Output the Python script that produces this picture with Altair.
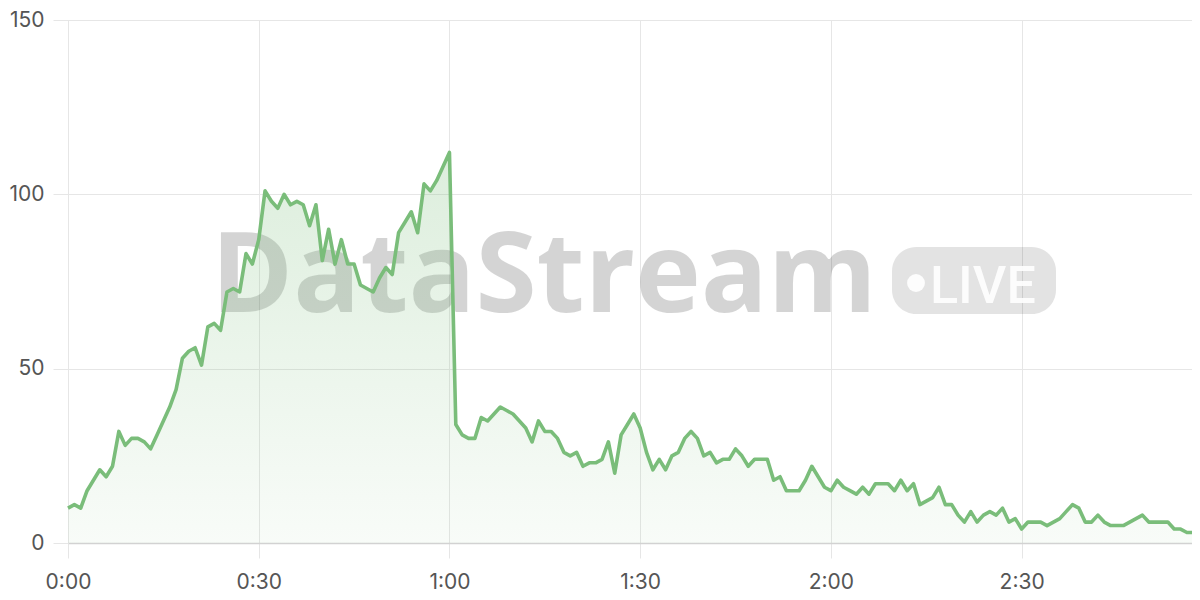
import altair as alt
import pandas as pd

seconds = list(range(178))
viewers = [
    10, 11, 10, 15, 18, 21, 19, 22, 32, 28,
    30, 30, 29, 27, 31, 35, 39, 44, 53, 55,
    56, 51, 62, 63, 61, 72, 73, 72, 83, 80,
    87, 101, 98, 96, 100, 97, 98, 97, 91, 97,
    81, 90, 80, 87, 80, 80, 74, 73, 72, 76,
    79, 77, 89, 92, 95, 89, 103, 101, 104, 108,
    112, 34, 31, 30, 30, 36, 35, 37, 39, 38,
    37, 35, 33, 29, 35, 32, 32, 30, 26, 25,
    26, 22, 23, 23, 24, 29, 20, 31, 34, 37,
    33, 26, 21, 24, 21, 25, 26, 30, 32, 30,
    25, 26, 23, 24, 24, 27, 25, 22, 24, 24,
    24, 18, 19, 15, 15, 15, 18, 22, 19, 16,
    15, 18, 16, 15, 14, 16, 14, 17, 17, 17,
    15, 18, 15, 17, 11, 12, 13, 16, 11, 11,
    8, 6, 9, 6, 8, 9, 8, 10, 6, 7,
    4, 6, 6, 6, 5, 6, 7, 9, 11, 10,
    6, 6, 8, 6, 5, 5, 5, 6, 7, 8,
    6, 6, 6, 6, 4, 4, 3, 3,
]
x_tick_values = [0, 30, 60, 90, 120, 150]
x_tick_labels = ["0:00", "0:30", "1:00", "1:30", "2:00", "2:30"]
y_tick_values = [0, 50, 100, 150]
watermark_title = ["DataStream"]
watermark_badge = ["LIVE"]

df = pd.DataFrame({"t": seconds, "v": viewers})

label_expr = "".join(
    f"datum.value == {v} ? '{l}' : " for v, l in zip(x_tick_values, x_tick_labels)
) + "''"

LINE = "#7abd7a"
FONT = "Inter"

x_enc = alt.X(
    "t:Q",
    scale=alt.Scale(domain=[0, 176.8], nice=False, zero=False),
    axis=alt.Axis(
        values=x_tick_values, labelExpr=label_expr, title=None,
        grid=True, gridColor="#e6e6e6", tickColor="#e6e6e6", tickSize=15,
        domainColor="#d2d2d2", domainWidth=1.5, labelPadding=13,
        labelFlush=False, labelFont=FONT, labelFontSize=21, labelColor="#555555",
    ),
)
y_enc = alt.Y(
    "v:Q",
    scale=alt.Scale(domain=[0, 150], nice=False),
    axis=alt.Axis(
        values=y_tick_values, title=None, grid=True, gridColor="#e6e6e6",
        tickColor="#e6e6e6", tickSize=15, domain=False, labelPadding=9,
        labelFlush=False, labelFont=FONT, labelFontSize=21, labelColor="#555555",
    ),
)

base = alt.Chart(df)

title_df = pd.DataFrame({"label": watermark_title})
badge_df = pd.DataFrame({"label": watermark_badge})

wm_text = alt.Chart(title_df).mark_text(
    font="Open Sans", fontWeight="bold", fontSize=111, color="#000000",
    opacity=0.165, align="left", baseline="alphabetic",
).encode(text="label:N", x=alt.value(143), y=alt.value(292))

wm_rect = alt.Chart(badge_df).mark_rect(
    cornerRadius=24, color="#000000", opacity=0.11,
).encode(x=alt.value(824), x2=alt.value(988), y=alt.value(227), y2=alt.value(294))

wm_dot = alt.Chart(badge_df).mark_point(
    shape="circle", filled=True, size=320, color="#ffffff", opacity=0.9,
).encode(x=alt.value(848), y=alt.value(263))

wm_live = alt.Chart(badge_df).mark_text(
    font="Roboto", fontWeight=500, fontSize=52, color="#ffffff",
    opacity=0.9, align="left", baseline="alphabetic",
).encode(text="label:N", x=alt.value(862), y=alt.value(283))

area = base.mark_area(
    color=alt.Gradient(
        gradient="linear",
        stops=[
            alt.GradientStop(color="rgba(122,189,122,0.26)", offset=0),
            alt.GradientStop(color="rgba(122,189,122,0.05)", offset=1),
        ],
        x1=0, x2=0, y1=0, y2=1,
    ),
).encode(x=x_enc, y=y_enc)

line = base.mark_line(
    color=LINE, strokeWidth=3.6, strokeJoin="round",
).encode(x=x_enc, y=y_enc)

chart = alt.layer(wm_text, wm_rect, wm_dot, wm_live, area, line).properties(
    width=1124, height=523,
    autosize=alt.AutoSizeParams(type="none"),
    padding={"left": 60, "top": 12, "right": 0, "bottom": 50},
).configure_view(stroke=None).configure(background="#ffffff")

chart.save("out.html", embed_options={"renderer": "svg", "actions": False})
